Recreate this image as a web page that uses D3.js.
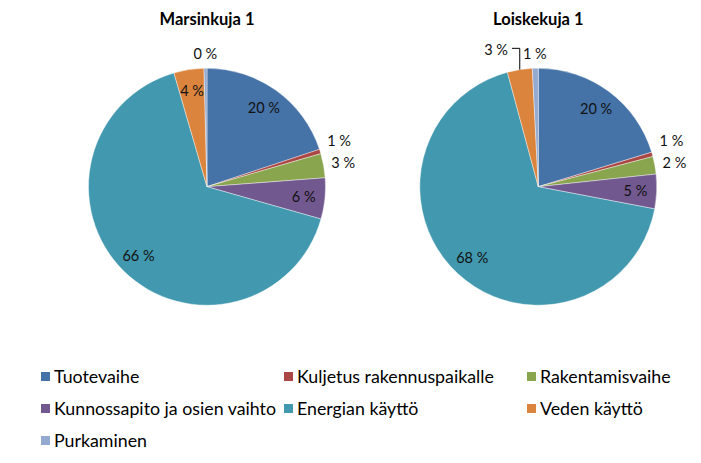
<!DOCTYPE html>
<html><head><meta charset="utf-8">
<script src="https://cdn.jsdelivr.net/npm/d3@7"></script>
<style>
body{margin:0;background:#fff;}
svg{display:block;font-family:Lato,"Noto Sans",sans-serif;}
</style></head>
<body>
<svg id="chart" width="701" height="463"></svg>
<script>
const categories = ["Tuotevaihe","Kuljetus rakennuspaikalle","Rakentamisvaihe","Kunnossapito ja osien vaihto","Energian käyttö","Veden käyttö","Purkaminen"];
const colors = ["#4572A7","#AA4643","#89A54E","#71588F","#4198AF","#DB843D","#93A9CF"];
const titles = ["Marsinkuja 1","Loiskekuja 1"];
const marsinkuja = [19.9, 0.6, 3.3, 5.6, 66.1, 4.1, 0.4];
const loiskekuja = [20.3, 0.6, 2.4, 4.7, 67.8, 3.4, 0.8];
const series = [marsinkuja, loiskekuja];

const svg = d3.select("#chart");
const radius = 118.5, cy = 186.7;
const xPos = d3.scalePoint().domain(titles).range([207, 538.3]);
const color = d3.scaleOrdinal().domain(categories).range(colors);
const pie = d3.pie().sort(null).value(d => d.v);
const arc = d3.arc().innerRadius(0).outerRadius(radius);

titles.forEach((t, i) => {
  const cx = xPos(t);
  const g = svg.append("g").attr("transform", `translate(${cx},${cy})`);
  svg.append("text").attr("x", cx).attr("y", 25).attr("text-anchor","middle")
    .attr("font-size", 16.5).attr("font-weight","bold").attr("fill","#000").text(t);
  const vals = series[i].map((v, j) => ({v, c: categories[j]}));
  const total = d3.sum(vals, d => d.v);
  const arcs = pie(vals);
  g.selectAll("path").data(arcs).join("path")
    .attr("d", arc).attr("fill", d => color(d.data.c))
    .attr("stroke", "#fff").attr("stroke-width", 0.4);

  const labels = arcs.map(d => {
    const mid = (d.startAngle + d.endAngle) / 2;
    const pct = d.data.v / total * 100;
    return {mid, pct, txt: Math.round(pct) + " %", outside: pct < 4};
  });
  const lg = g.append("g");
  labels.forEach(l => {
    l.node = lg.append("text").attr("font-size", 14.5).attr("fill", "#111")
      .attr("text-anchor","middle").text(l.txt);
    l.w = l.node.node().getComputedTextLength();
    l.h = 12;
    const s = Math.sin(l.mid), c = -Math.cos(l.mid);
    if (!l.outside) {
      l.x = 0.82 * radius * s; l.y = 0.82 * radius * c;
    } else {
      const ra = radius + 8;
      l.x = ra * s + l.w / 2 * s;
      l.y = ra * c + l.h / 2 * c;
    }
  });
  const right = labels.filter(l => l.outside && Math.sin(l.mid) > 0.5).sort((a, b) => a.y - b.y);
  for (let k = right.length - 2; k >= 0; k--) {
    if (right[k].y > right[k + 1].y - 22) right[k].y = right[k + 1].y - 22;
  }
  const top = labels.filter(l => l.outside && Math.sin(l.mid) <= 0.5).sort((a, b) => b.mid - a.mid);
  for (let k = 1; k < top.length; k++) {
    const a = top[k - 1], b = top[k];
    if (Math.abs(a.x - b.x) < (a.w + b.w) / 2 + 4 && Math.abs(a.y - b.y) < a.h) {
      b.x = a.x - ((a.w + b.w) / 2 + 15);
      b.y -= 6;
      b.leader = true;
    }
  }
  labels.forEach(l => {
    l.node.attr("x", l.x).attr("y", l.y).attr("dy", "0.35em");
    if (l.leader) {
      const ex = radius * Math.sin(l.mid), ey = -radius * Math.cos(l.mid);
      const ly = l.y - 1.5;
      lg.append("path")
        .attr("d", d3.line()([[l.x + l.w / 2 + 4, ly], [ex, ly], [ex, ey]]))
        .attr("fill","none").attr("stroke","#000").attr("stroke-width",1);
    }
  });
});

const legCols = d3.scalePoint().domain([0,1,2]).range([41, 527]);
const legRows = d3.scalePoint().domain([0,1,2]).range([382.5, 446.5]);
const leg = svg.append("g");
categories.forEach((c, i) => {
  const x = legCols(i % 3), y = legRows(Math.floor(i / 3));
  leg.append("rect").attr("x", x).attr("y", y - 10.5).attr("width", 9).attr("height", 9).attr("fill", color(c));
  leg.append("text").attr("x", x + 13).attr("y", y).attr("font-size", 17.8).attr("fill","#000").text(c);
});
</script>
</body></html>
